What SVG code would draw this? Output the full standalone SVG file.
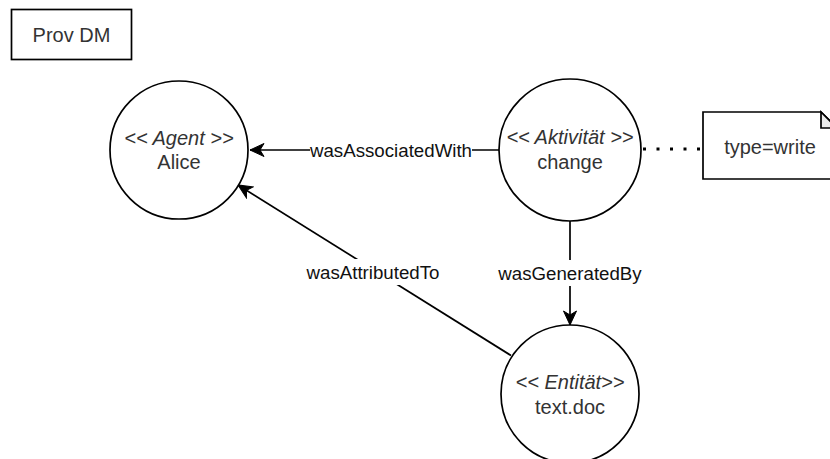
<svg xmlns="http://www.w3.org/2000/svg" width="830" height="459" viewBox="0 0 830 459">
  <style>
    .shape { fill: #ffffff; stroke: #000000; stroke-width: 1.7; }
    .edge { fill: none; stroke: #000000; stroke-width: 1.7; }
    .node-text { font-family: "Liberation Sans", Arial, Helvetica, sans-serif; font-size: 20px; fill: #333333; text-anchor: middle; }
    .stereo { font-style: italic; }
    .edge-label { font-family: "Liberation Sans", Arial, Helvetica, sans-serif; font-size: 18.7px; fill: #111111; text-anchor: middle; }
    .label-bg { fill: #ffffff; stroke: none; }
  </style>
  <defs>
    <marker id="arrow" viewBox="0 0 16 14" refX="15" refY="7" markerWidth="16" markerHeight="14" markerUnits="userSpaceOnUse" orient="auto">
      <path d="M15,7 L1,0.5 L5,7 L1,13.5 Z" fill="#000000" stroke="#000000" stroke-width="1"/>
    </marker>
  </defs>

  <rect width="830" height="459" fill="#ffffff"/>

  <!-- title frame -->
  <g id="title">
    <rect class="shape" x="11.5" y="9.5" width="120" height="50"/>
    <text class="node-text" x="71.5" y="41.5">Prov DM</text>
  </g>

  <!-- connectors -->
  <g id="connectors">
    <line class="edge" x1="500" y1="150" x2="250" y2="150" marker-end="url(#arrow)"/>
    <line class="edge" x1="570" y1="220" x2="570" y2="325" marker-end="url(#arrow)"/>
    <line class="edge" x1="511" y1="355.5" x2="238" y2="185" marker-end="url(#arrow)"/>
    <line x1="643" y1="149" x2="703" y2="149" stroke="#000000" stroke-width="3" stroke-dasharray="3 10.5"/>

    <rect class="label-bg" x="310" y="139" width="162" height="22"/>
    <text class="edge-label" x="391" y="157">wasAssociatedWith</text>

    <rect class="label-bg" x="497" y="260" width="146" height="26"/>
    <text class="edge-label" x="570" y="280">wasGeneratedBy</text>

    <rect class="label-bg" x="303" y="259" width="140" height="26"/>
    <text class="edge-label" x="373" y="279">wasAttributedTo</text>
  </g>

  <!-- agent -->
  <g id="agent-alice">
    <circle class="shape" cx="179" cy="150" r="69"/>
    <text class="node-text" x="179" y="145"><tspan class="stereo">&lt;&lt; Agent &gt;&gt;</tspan></text>
    <text class="node-text" x="179" y="169">Alice</text>
  </g>

  <!-- activity -->
  <g id="activity-change">
    <circle class="shape" cx="570" cy="150" r="71"/>
    <text class="node-text" x="570" y="144"><tspan class="stereo">&lt;&lt; Aktivität &gt;&gt;</tspan></text>
    <text class="node-text" x="570" y="169">change</text>
  </g>

  <!-- entity -->
  <g id="entity-textdoc">
    <circle class="shape" cx="570" cy="394" r="69"/>
    <text class="node-text" x="570" y="389"><tspan class="stereo">&lt;&lt; Entität&gt;&gt;</tspan></text>
    <text class="node-text" x="570" y="414">text.doc</text>
  </g>

  <!-- note -->
  <g id="note-type">
    <path class="shape" d="M703,112 L821,112 L837,128 L837,179 L703,179 Z"/>
    <path d="M821,112 L821,128 L837,128 Z" fill="#ececec" stroke="#000000" stroke-width="1.7" stroke-linejoin="miter"/>
    <text class="node-text" x="770" y="154">type=write</text>
  </g>
</svg>
